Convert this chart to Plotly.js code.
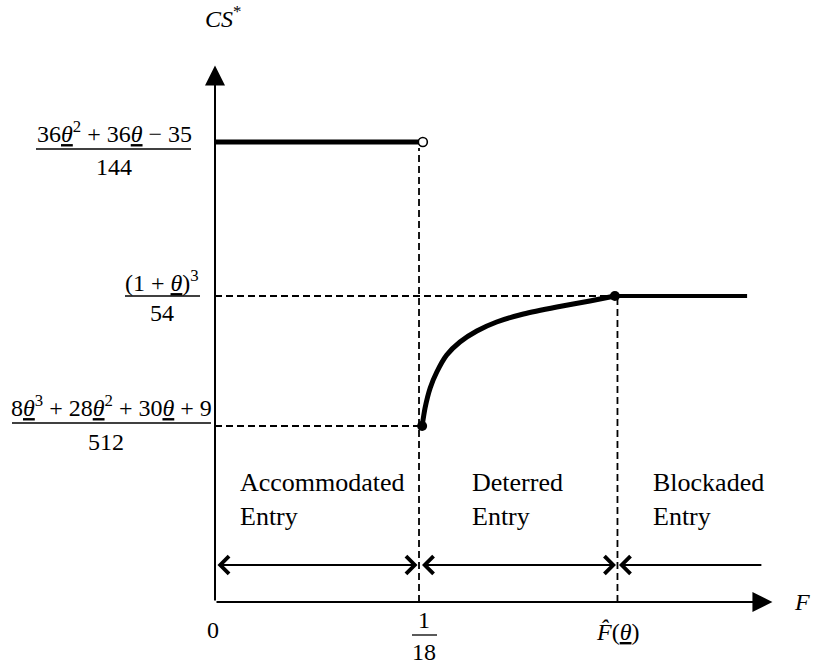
<!DOCTYPE html>
<html><head><meta charset="utf-8">
<script src="https://cdn.plot.ly/plotly-3.0.1.min.js"></script>
<style>html,body{margin:0;padding:0;background:#fff}</style>
</head><body><div id="chart" style="width:815px;height:666px"></div>
<script>
const FONT = '"Liberation Serif","Times New Roman",Times,serif';
const TH = '<u><i>θ</i></u>';

// ---- key positions on the F axis ----
const F_ACCOM = 1 / 18;      // threshold between accommodated and deterred
const F_HAT = 0.1096;        // F-hat(theta)
const F_LINE_END = 0.1449;   // end of blockaded segment
const F_ROW_END = 0.1492;    // end of region arrow row
const F_AXIS_END = 0.1518;   // axis arrow end

// ---- CS levels ----
const CS_TOP = 4.60;   // (36θ²+36θ−35)/144
const CS_MID = 3.06;   // (1+θ)³/54
const CS_LOW = 1.76;   // (8θ³+28θ²+30θ+9)/512
const CS_AXIS_END = 5.364;
const CS_ROW = 0.37;   // height of region arrow row

// ---- series ----
const accF = [0, 0.0556];
const accCS = [4.60, 4.60];
const openF = [0.0566];
const openCS = [4.60];
const curveF = [0.0564, 0.0572, 0.0586, 0.0604, 0.0631, 0.0667, 0.0713, 0.0767, 0.0840, 0.0931, 0.1021, 0.1089];
const curveCS = [1.76, 1.94, 2.14, 2.30, 2.47, 2.60, 2.71, 2.80, 2.88, 2.95, 3.01, 3.06];
const blockF = [0.1089, 0.1449];
const blockCS = [3.06, 3.06];
const dotF = [0.0564, 0.1089];
const dotCS = [1.76, 3.06];

// ---- labels ----
const regionLabels = ['Accommodated<br>Entry', 'Deterred<br>Entry', 'Blockaded<br>Entry'];
const xTickLabels = ['0', '1', '18', '<i>F\u0302</i>(' + TH + ')'];
const yTickNum = [
  '36' + TH + '<sup>2</sup> + 36' + TH + ' − 35',
  '(1 + ' + TH + ')<sup>3</sup>',
  '8' + TH + '<sup>3</sup> + 28' + TH + '<sup>2</sup> + 30' + TH + ' + 9'
];
const yTickDen = ['144', '54', '512'];
const axisTitles = ['<i>CS</i><sup>*</sup>', '<i>F</i>'];

// pixel helpers for text placement (plot area: x 215..775, y 62..602)
const X0 = 215, Y0 = 602;
const xp = px => (px - X0) / 560;
const yp = py => (Y0 - py) / 540;

const dashStyle = {color: 'black', width: 1.8, dash: '7px,4px'};
const traces = [];
function line(x, y, ln) {
  traces.push({type: 'scatter', mode: 'lines', x: x, y: y, line: ln, hoverinfo: 'skip', showlegend: false});
}
// dashed guides
line([F_ACCOM, F_ACCOM], [0, CS_TOP - 0.06], dashStyle);
line([F_HAT, F_HAT], [0, CS_MID], dashStyle);
line([0, F_HAT], [CS_MID, CS_MID], dashStyle);
line([0, F_ACCOM], [CS_LOW, CS_LOW], dashStyle);
// solid segments
line(accF, accCS, {color: 'black', width: 5});
line(curveF, curveCS, {color: 'black', width: 5, shape: 'spline', smoothing: 0.6});
line(blockF, blockCS, {color: 'black', width: 4});
// dots
traces.push({type: 'scatter', mode: 'markers', x: dotF, y: dotCS, marker: {color: 'black', size: 10}, hoverinfo: 'skip', showlegend: false, cliponaxis: false});
traces.push({type: 'scatter', mode: 'markers', x: openF, y: openCS, marker: {color: 'white', size: 9, line: {color: 'black', width: 1.6}}, hoverinfo: 'skip', showlegend: false, cliponaxis: false});

const ann = [];
// axes with arrows
const axisArrow = {xref: 'x', yref: 'y', axref: 'x', ayref: 'y', text: '', showarrow: true, arrowhead: 2, arrowsize: 2, arrowwidth: 2, arrowcolor: 'black', standoff: 0};
ann.push(Object.assign({}, axisArrow, {x: 0, y: CS_AXIS_END, ax: 0, ay: 0}));
ann.push(Object.assign({}, axisArrow, {x: F_AXIS_END, y: 0, ax: 0, ay: 0}));
// region double arrows
const rowArrow = {xref: 'x', yref: 'y', axref: 'x', ayref: 'y', text: '', showarrow: true, arrowhead: 4, startarrowhead: 4, arrowsize: 1.7, startarrowsize: 1.7, arrowwidth: 2, arrowcolor: 'black'};
ann.push(Object.assign({}, rowArrow, {x: F_ACCOM, y: CS_ROW, ax: 0, ay: CS_ROW, arrowside: 'end+start', standoff: 1.5, startstandoff: 1}));
ann.push(Object.assign({}, rowArrow, {x: F_HAT, y: CS_ROW, ax: F_ACCOM, ay: CS_ROW, arrowside: 'end+start', standoff: 1.5, startstandoff: 1.5}));
ann.push(Object.assign({}, rowArrow, {x: F_HAT, y: CS_ROW, ax: F_ROW_END, ay: CS_ROW, arrowside: 'end', standoff: 1.5}));

function txt(text, pxX, pxY, size, extra) {
  ann.push(Object.assign({text: text, x: xp(pxX), y: yp(pxY), xref: 'paper', yref: 'paper', showarrow: false,
    xanchor: 'center', yanchor: 'middle', font: {family: FONT, size: size, color: 'black'}}, extra || {}));
}
// region labels
txt(regionLabels[0], 238, 499, 26, {xanchor: 'left', align: 'left'});
txt(regionLabels[1], 470, 499, 26, {xanchor: 'left', align: 'left'});
txt(regionLabels[2], 651, 499, 26, {xanchor: 'left', align: 'left'});
// x ticks
txt(xTickLabels[0], 213, 630, 24);
txt(xTickLabels[1], 424, 620, 24);
txt(xTickLabels[2], 424, 652, 24);
txt(xTickLabels[3], 617, 632, 24);
// y ticks
txt(yTickNum[0], 114, 132, 24);
txt(yTickDen[0], 114, 167, 24);
txt(yTickNum[1], 162, 281, 24);
txt(yTickDen[1], 162, 313, 24);
txt(yTickNum[2], 111, 406, 24);
txt(yTickDen[2], 106, 442, 24);
// axis titles
txt(axisTitles[0], 223, 17, 24);
txt(axisTitles[1], 802, 602, 24);

const bar = (x0, x1, y) => ({type: 'line', xref: 'paper', yref: 'paper', x0: xp(x0), x1: xp(x1), y0: yp(y), y1: yp(y), line: {color: 'black', width: 1.3}});
const shapes = [bar(36, 191, 149), bar(125, 200, 296), bar(12, 211, 423), bar(412, 437, 635)];

Plotly.newPlot('chart', traces, {
  width: 815, height: 666,
  margin: {l: 215, r: 40, t: 62, b: 64},
  paper_bgcolor: 'white', plot_bgcolor: 'white',
  showlegend: false,
  xaxis: {range: [0, 0.1525], visible: false, fixedrange: true},
  yaxis: {range: [0, 5.40], visible: false, fixedrange: true},
  annotations: ann,
  shapes: shapes
}, {staticPlot: true, displayModeBar: false});
</script></body></html>
